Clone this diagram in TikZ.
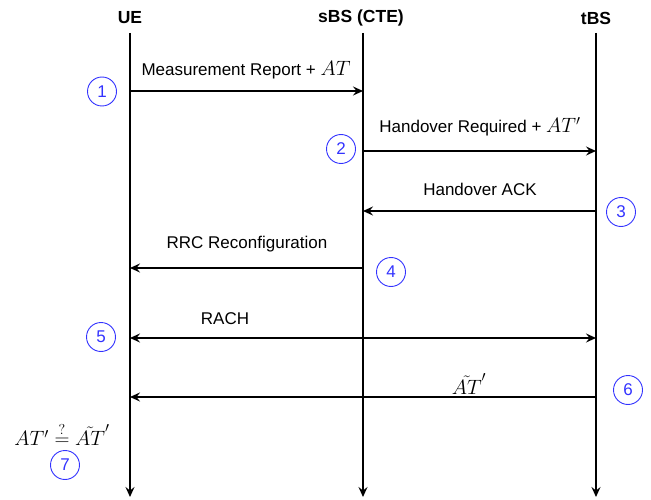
\documentclass[tikz,border=0pt]{standalone}
\usepackage{amsmath}
\usepackage{fontspec}
\setmainfont{Liberation Sans}
\usetikzlibrary{arrows.meta}
\definecolor{stepblue}{RGB}{51,51,255}
\newcommand{\mymath}[1]{{\fontsize{20}{22}\selectfont$#1$}}
\tikzset{
  seqtip/.tip={Stealth[length=10pt,width=9pt,inset=3.5pt]},
  lifeline/.style={line width=1.3pt,-seqtip},
  msg/.style={line width=1.3pt,-seqtip},
  msgboth/.style={line width=1.3pt,seqtip-seqtip},
  header/.style={font=\fontsize{17.5}{20}\selectfont\bfseries},
  lbl/.style={font=\fontsize{17}{19}\selectfont},
  stepnum/.style={circle,draw=stepblue,line width=0.9pt,text=stepblue,minimum size=29pt,inner sep=0pt,font=\fontsize{17}{19}\selectfont}
}
\begin{document}
\begin{tikzpicture}[x=1pt,y=-1pt]
\useasboundingbox (0,0) rectangle (651,500);
% headers
\node[header] (hue) at (130,18) {UE};
\node[header] (hsbs) at (361,18) {sBS (CTE)};
\node[header] (htbs) at (596,18) {tBS};
% lifelines
\coordinate (uetop) at (130,33); \coordinate (uebot) at (130,497);
\coordinate (sbstop) at (363,33); \coordinate (sbsbot) at (363,497);
\coordinate (tbstop) at (596,33); \coordinate (tbsbot) at (596,497);
\draw[lifeline] (uetop) -- (uebot);
\draw[lifeline] (sbstop) -- (sbsbot);
\draw[lifeline] (tbstop) -- (tbsbot);
% message points
\coordinate (ue1) at (130,91); \coordinate (sbs1) at (363,91);
\coordinate (sbs2) at (363,151); \coordinate (tbs2) at (596,151);
\coordinate (tbs3) at (596,211); \coordinate (sbs3) at (363,211);
\coordinate (sbs4) at (363,268); \coordinate (ue4) at (130,268);
\coordinate (ue5) at (130,338); \coordinate (tbs5) at (596,338);
\coordinate (tbs6) at (596,397); \coordinate (ue6) at (130,397);
\draw[msg] (ue1) -- (sbs1);
\draw[msg] (sbs2) -- (tbs2);
\draw[msg] (tbs3) -- (sbs3);
\draw[msg] (sbs4) -- (ue4);
\draw[msgboth] (ue5) -- (tbs5);
\draw[msg] (tbs6) -- (ue6);
% labels
\node[lbl] (l1) at (246,70) {Measurement Report + \mymath{AT}};
\node[lbl] (l2) at (480,127) {Handover Required + \mymath{AT'}};
\node[lbl] (l3) at (480,189) {Handover ACK};
\node[lbl] (l4) at (247,244) {RRC Reconfiguration};
\node[lbl] (l5) at (225,319) {RACH};
\node[lbl] (l6) at (469,384) {\mymath{\tilde{AT}'}};
\node[lbl] (l7) at (62,434) {\mymath{AT' \overset{?}{=} \tilde{AT}'}};
% step numbers
\node[stepnum] (n1) at (102,91.5) {1};
\node[stepnum] (n2) at (341,149) {2};
\node[stepnum] (n3) at (621,212) {3};
\node[stepnum] (n4) at (391,272) {4};
\node[stepnum] (n5) at (101,337) {5};
\node[stepnum] (n6) at (628,390) {6};
\node[stepnum] (n7) at (65,465) {7};
\end{tikzpicture}
\end{document}
